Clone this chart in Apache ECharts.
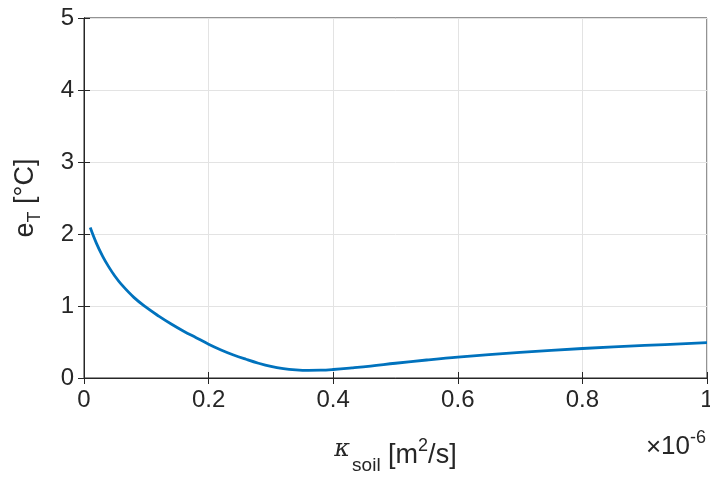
<!DOCTYPE html>
<html>
<head>
<meta charset="utf-8">
<script src="https://cdn.jsdelivr.net/npm/echarts@6/dist/echarts.min.js"></script>
<style>
html,body{margin:0;padding:0;background:#fff;}
#chart{width:710px;height:477px;}
</style>
</head>
<body>
<div id="chart"></div>
<script>
// kappa_soil in units of 1e-6 m^2/s
var kappa = [0.01, 0.02, 0.03, 0.04, 0.05, 0.06, 0.08, 0.10, 0.12, 0.14, 0.16, 0.18, 0.20, 0.22, 0.24, 0.26, 0.28, 0.30, 0.32, 0.34, 0.36, 0.38, 0.40, 0.43, 0.46, 0.50, 0.55, 0.60, 0.70, 0.80, 0.90, 1.00];
// e_T in °C
var eT = [2.09, 1.87, 1.69, 1.54, 1.41, 1.30, 1.12, 0.98, 0.86, 0.75, 0.65, 0.56, 0.47, 0.39, 0.32, 0.26, 0.205, 0.16, 0.13, 0.113, 0.106, 0.108, 0.118, 0.14, 0.165, 0.205, 0.25, 0.29, 0.355, 0.41, 0.452, 0.49];
var xTicks = [0, 0.2, 0.4, 0.6, 0.8, 1];
var yTicks = [0, 1, 2, 3, 4, 5];

var FONT = '"Liberation Sans", Arial, Helvetica, sans-serif';
var TXT = '#262626';
var GRIDC = '#e3e3e3';

var chart = echarts.init(document.getElementById('chart'));
var pts = kappa.map(function (k, i) { return [k, eT[i]]; });

function fmtX(v) {
  for (var i = 0; i < xTicks.length; i++) if (Math.abs(v - xTicks[i]) < 1e-9) return String(xTicks[i]);
  return '';
}
function fmtY(v) {
  for (var i = 0; i < yTicks.length; i++) if (Math.abs(v - yTicks[i]) < 1e-9) return String(yTicks[i]);
  return '';
}

var option = {
  backgroundColor: '#fff',
  animation: false,
  grid: { left: 84, right: 3, top: 18, bottom: 99, containLabel: false, outerBoundsMode: 'none', show: true, borderColor: TXT, borderWidth: 1, backgroundColor: 'transparent' },
  xAxis: [{
    type: 'value', min: 0, max: 1, interval: 0.2,
    axisLine: { show: true, lineStyle: { color: TXT, width: 1 } },
    axisTick: { show: true, inside: true, length: 6, lineStyle: { color: TXT } },
    splitLine: { show: true, lineStyle: { color: GRIDC, width: 1 } },
    axisLabel: { color: TXT, fontFamily: FONT, fontSize: 24, margin: 10, formatter: fmtX, showMinLabel: true, showMaxLabel: true },
    name: '{k|κ}{sub|soil}{n| [m}{sup|2}{n|/s]}',
    nameLocation: 'middle', nameGap: 58,
    nameTextStyle: {
      color: TXT, fontFamily: FONT,
      rich: {
        k: { fontSize: 24, fontFamily: 'DejaVu Serif', fontStyle: 'italic', color: TXT, padding: [0, 2, 12, 0] },
        sub: { fontSize: 19, fontFamily: FONT, color: TXT, padding: [20, 0, 0, 0] },
        n: { fontSize: 27, fontFamily: FONT, color: TXT },
        sup: { fontSize: 18, fontFamily: FONT, color: TXT, padding: [0, 0, 18, 0] }
      }
    }
  }, {
    type: 'value', min: 0, max: 1, interval: 0.2, position: 'top',
    axisLine: { show: true, lineStyle: { color: TXT, width: 1 } },
    axisTick: { show: true, inside: true, length: 6, lineStyle: { color: TXT } },
    splitLine: { show: false }, axisLabel: { show: false }
  }],
  yAxis: [{
    type: 'value', min: 0, max: 5, interval: 1,
    axisLine: { show: true, lineStyle: { color: TXT, width: 1 } },
    axisTick: { show: true, inside: true, length: 6, lineStyle: { color: TXT } },
    splitLine: { show: true, lineStyle: { color: GRIDC, width: 1 } },
    axisLabel: { color: TXT, fontFamily: FONT, fontSize: 24, margin: 10, formatter: fmtY },
    name: '{n|e}{sub|T}{n| [°C]}',
    nameLocation: 'middle', nameGap: 40, nameRotate: 90,
    nameTextStyle: {
      color: TXT, fontFamily: FONT,
      rich: {
        n: { fontSize: 27, fontFamily: FONT, color: TXT },
        sub: { fontSize: 18, fontFamily: FONT, color: TXT, padding: [18, 0, 0, 0] }
      }
    }
  }, {
    type: 'value', min: 0, max: 5, interval: 1, position: 'right',
    axisLine: { show: true, lineStyle: { color: TXT, width: 1 } },
    axisTick: { show: true, inside: true, length: 6, lineStyle: { color: TXT } },
    splitLine: { show: false }, axisLabel: { show: false }
  }],
  graphic: [{
    type: 'text',
    right: 4, top: 429,
    style: {
      text: '{x|×}{n|10}{sup|-6}',
      rich: {
        x: { fontSize: 26, fontFamily: FONT, fill: TXT, padding: [2, 0, 0, 0] },
        n: { fontSize: 26, fontFamily: FONT, fill: TXT },
        sup: { fontSize: 18, fontFamily: FONT, fill: TXT, padding: [0, 0, 18, 0] }
      }
    }
  }],
  series: [{
    type: 'line', data: pts, smooth: 0.4, showSymbol: false, symbol: 'none',
    lineStyle: { color: '#0072BD', width: 2.8 },
    xAxisIndex: 0, yAxisIndex: 0
  }]
};
chart.setOption(option);
</script>
</body>
</html>
